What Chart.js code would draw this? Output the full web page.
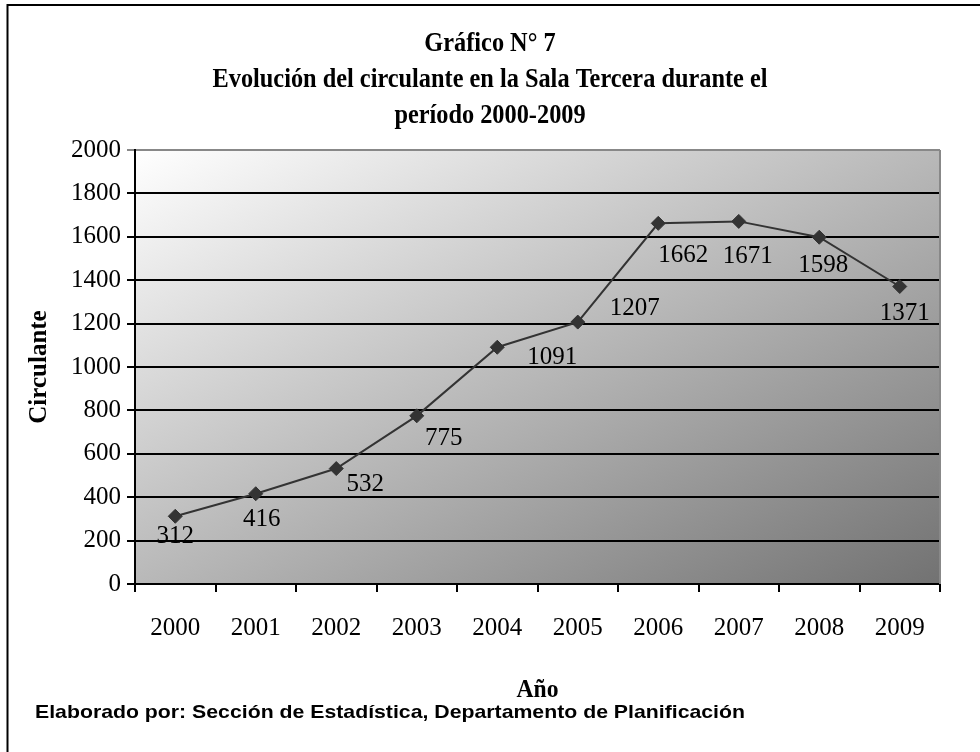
<!DOCTYPE html>
<html>
<head>
<meta charset="utf-8">
<script src="https://cdn.jsdelivr.net/npm/chart.js@4.4.0/dist/chart.umd.min.js"></script>
<style>
  html, body { margin: 0; padding: 0; background: #fff; }
  canvas { display: block; }
</style>
</head>
<body>
<canvas id="line-chart" width="980" height="752"></canvas>
<script>
var years = ["2000", "2001", "2002", "2003", "2004", "2005", "2006", "2007", "2008", "2009"];
var circulante = [312, 416, 532, 775, 1091, 1207, 1662, 1671, 1598, 1371];
var yMin = 0, yMax = 2000, yStep = 200;

var titleLines = ["Gráfico N° 7", "Evolución del circulante en la Sala Tercera durante el", "período 2000-2009"];
var yTitle = "Circulante";
var xTitle = "Año";
var footer = "Elaborado por: Sección de Estadística, Departamento de Planificación";

// label nudges (dx, dy) relative to each point, as placed in the original
var labelNudge = [[0, 20], [6, 26], [29, 16], [27, 23], [55, 10], [57, -14], [25, 32], [9, 35], [4, 28], [5, 27]];

var serif = '"Liberation Serif", "Times New Roman", serif';

// draw text squeezed/stretched horizontally to a given width
function fitText(ctx, text, x, y, width) {
  var sx = width / ctx.measureText(text).width;
  ctx.save();
  ctx.translate(x, y);
  ctx.scale(sx, 1);
  ctx.fillText(text, 0, 0);
  ctx.restore();
}

var decor = {
  id: 'decor',
  beforeDraw: function (chart) {
    var ctx = chart.ctx, a = chart.chartArea;
    var w = a.right - a.left, h = a.bottom - a.top;
    ctx.save();
    ctx.fillStyle = '#fff';
    ctx.fillRect(0, 0, chart.width, chart.height);
    // corner-to-corner gradient in the box's own proportions
    ctx.translate(a.left, a.top);
    ctx.scale(w, h);
    var g = ctx.createLinearGradient(0, 0, 1, 1);
    g.addColorStop(0, '#ffffff');
    g.addColorStop(1, '#727272');
    ctx.fillStyle = g;
    ctx.fillRect(0, 0, 1, 1);
    ctx.restore();
  },
  beforeDatasetsDraw: function (chart) {
    var ctx = chart.ctx, a = chart.chartArea;
    ctx.save();
    ctx.strokeStyle = '#888';
    ctx.lineWidth = 2;
    ctx.beginPath();
    ctx.moveTo(a.right, a.top);
    ctx.lineTo(a.right, a.bottom);
    ctx.stroke();
    ctx.restore();
  },
  afterDatasetsDraw: function (chart) {
    var ctx = chart.ctx;
    var pts = chart.getDatasetMeta(0).data;
    ctx.save();
    ctx.font = '25px ' + serif;
    ctx.fillStyle = '#000';
    ctx.textAlign = 'center';
    ctx.textBaseline = 'middle';
    pts.forEach(function (p, i) {
      ctx.fillText(String(circulante[i]), p.x + labelNudge[i][0], p.y + labelNudge[i][1]);
    });
    ctx.restore();
  },
  afterDraw: function (chart) {
    var ctx = chart.ctx, a = chart.chartArea;
    ctx.save();
    // page frame
    ctx.strokeStyle = '#000';
    ctx.lineWidth = 2;
    ctx.beginPath();
    ctx.moveTo(980, 5);
    ctx.lineTo(7.5, 5);
    ctx.lineTo(7.5, 752);
    ctx.stroke();

    ctx.fillStyle = '#000';
    ctx.textAlign = 'center';
    ctx.textBaseline = 'middle';

    // title (condensed bold serif)
    ctx.font = 'bold 27px ' + serif;
    var sx = 555 / ctx.measureText(titleLines[1]).width;
    var ys = [44, 80, 116];
    titleLines.forEach(function (t, i) {
      ctx.save();
      ctx.translate(490, ys[i]);
      ctx.scale(sx, 1);
      ctx.fillText(t, 0, 0);
      ctx.restore();
    });

    // axis titles
    ctx.font = 'bold 25px ' + serif;
    ctx.save();
    ctx.translate(40, (a.top + a.bottom) / 2);
    ctx.rotate(-Math.PI / 2);
    ctx.fillText(yTitle, 0, 0);
    ctx.restore();

    ctx.font = 'bold 26px ' + serif;
    fitText(ctx, xTitle, (a.left + a.right) / 2, 690, 42);

    // footer
    ctx.font = 'bold 19px "Liberation Sans", Arial, sans-serif';
    ctx.textAlign = 'left';
    fitText(ctx, footer, 35, 713, 710);
    ctx.restore();
  }
};

new Chart(document.getElementById("line-chart"), {
  type: 'line',
  data: {
    labels: years,
    datasets: [{
      label: yTitle,
      data: circulante,
      borderColor: '#333333',
      borderWidth: 2,
      tension: 0,
      pointStyle: 'rectRot',
      pointRadius: 7,
      pointBackgroundColor: '#333333',
      pointBorderColor: '#333333',
      pointBorderWidth: 1
    }]
  },
  options: {
    responsive: false,
    animation: false,
    layout: { padding: { left: 0, right: 40, top: 150, bottom: 0 } },
    plugins: {
      legend: { display: false },
      tooltip: { enabled: false },
      title: { display: false }
    },
    scales: {
      x: {
        offset: true,
        grid: { offset: true, drawOnChartArea: false, color: '#000', lineWidth: 2, tickLength: 8 },
        border: { color: '#000', width: 2 },
        ticks: { color: '#000', font: { family: serif, size: 25 }, padding: 21, maxRotation: 0 },
        afterFit: function (s) { s.height = 168; }
      },
      y: {
        min: yMin,
        max: yMax,
        grid: {
          color: function (c) { return c.tick && c.tick.value === yMax ? '#888' : '#000'; },
          lineWidth: 2,
          tickLength: 8
        },
        border: { color: '#000', width: 2 },
        ticks: {
          stepSize: yStep,
          color: '#000',
          font: { family: serif, size: 25 },
          padding: 6,
          callback: function (v) { return String(v); }
        },
        afterFit: function (s) { s.width = 135; }
      }
    }
  },
  plugins: [decor]
});
</script>
</body>
</html>
